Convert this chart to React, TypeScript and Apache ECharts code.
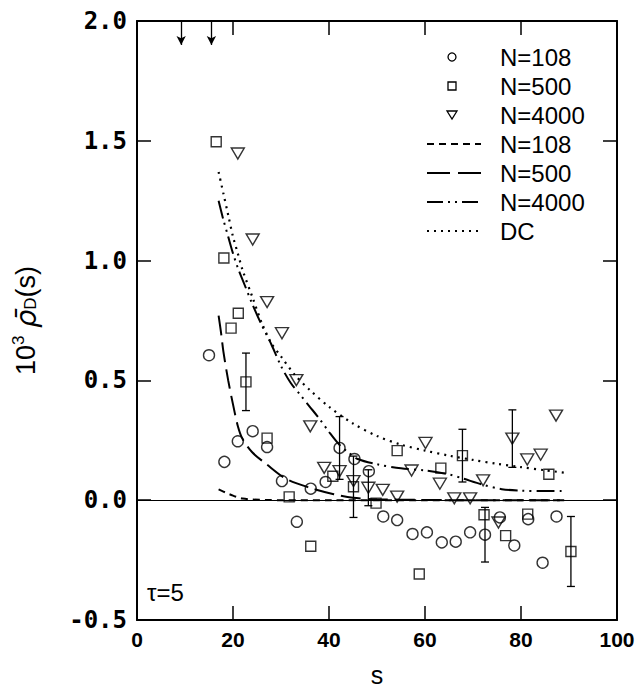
import React, { useEffect, useRef } from "react";
import * as echarts from "echarts";

// ---- data ----
const xTicks = [0, 20, 40, 60, 80, 100];
const yTicks = [-0.5, 0.0, 0.5, 1.0, 1.5, 2.0];
const legendLabels = ["N=108", "N=500", "N=4000", "N=108", "N=500", "N=4000", "DC"];

// simulation points
const circleS = [15.0, 18.2, 21.0, 24.1, 27.1, 30.2, 33.3, 36.2, 39.3, 42.2, 45.3, 48.3, 51.3, 54.2, 57.4, 60.4, 63.5, 66.4, 69.4, 72.5, 75.6, 78.6, 81.5, 84.5, 87.4];
const circleV = [0.605, 0.16, 0.246, 0.288, 0.222, 0.08, -0.09, 0.048, 0.076, 0.218, 0.172, 0.121, -0.068, -0.083, -0.141, -0.134, -0.176, -0.173, -0.134, -0.144, -0.072, -0.189, -0.079, -0.261, -0.068];

const squareS = [16.5, 18.1, 19.6, 21.1, 22.7, 27.1, 31.7, 36.2, 40.8, 45.1, 49.8, 54.2, 58.8, 63.3, 67.8, 72.3, 76.8, 81.4, 85.8, 90.4];
const squareV = [1.496, 1.011, 0.718, 0.78, 0.494, 0.259, 0.014, -0.192, 0.1, 0.056, -0.012, 0.207, -0.308, 0.134, 0.186, -0.061, -0.148, -0.058, 0.108, -0.214];

const triS = [21.0, 24.1, 27.1, 30.2, 33.2, 36.1, 39.0, 42.2, 45.1, 48.2, 51.2, 54.2, 57.2, 60.1, 63.1, 66.1, 69.4, 72.1, 75.3, 78.2, 81.3, 84.1, 87.3];
const triV = [1.447, 1.088, 0.827, 0.697, 0.501, 0.308, 0.135, 0.121, 0.08, 0.052, 0.043, 0.015, 0.124, 0.239, 0.069, 0.008, 0.008, 0.083, -0.093, 0.257, 0.17, 0.19, 0.353];

// error bars (centre, half-width)
const errS = [22.7, 42.2, 45.1, 48.2, 67.8, 72.5, 78.2, 90.4];
const errV = [0.494, 0.218, 0.056, 0.052, 0.186, -0.144, 0.257, -0.214];
const errD = [0.12, 0.131, 0.128, 0.075, 0.11, 0.114, 0.12, 0.146];

// theory curves
const fit108S = [17, 18, 19, 20, 21, 22, 24, 27, 30, 40, 60, 89];
const fit108V = [0.045, 0.036, 0.027, 0.019, 0.012, 0.007, 0.003, 0.001, 0, 0, 0, 0];

const fit500S = [17, 17.5, 18, 19, 20, 21, 22, 24, 27, 31, 36, 41, 45, 50, 60, 70, 89];
const fit500V = [0.77, 0.7, 0.62, 0.5, 0.4, 0.31, 0.255, 0.2, 0.15, 0.09, 0.052, 0.025, 0.01, 0.004, 0.001, 0, 0];

const fit4000S = [17, 18, 19, 20, 21, 22, 24, 26, 28, 30, 32, 34, 36, 38, 40, 42, 44, 46, 50, 55, 60, 65, 68, 72, 76, 80, 85, 89];
const fit4000V = [1.25, 1.17, 1.1, 1.03, 0.97, 0.92, 0.82, 0.73, 0.65, 0.56, 0.49, 0.44, 0.39, 0.34, 0.285, 0.235, 0.2, 0.172, 0.15, 0.133, 0.124, 0.108, 0.09, 0.065, 0.046, 0.04, 0.038, 0.038];

const dcS = [17, 18, 19, 20, 21, 22, 24, 26, 28, 30, 33, 36, 40, 45, 50, 55, 60, 65, 70, 75, 80, 85, 89];
const dcV = [1.37, 1.28, 1.19, 1.1, 1.03, 0.96, 0.85, 0.74, 0.655, 0.6, 0.52, 0.46, 0.39, 0.32, 0.268, 0.232, 0.207, 0.186, 0.168, 0.152, 0.138, 0.125, 0.115];

// arrows at the top
const arrowS = [9.2, 15.5];

const zip = (a: number[], b: number[]) => a.map((x, i) => [x, b[i]]);

const DASH108 = [7, 5];
const DASH500 = [20, 7];
const DASH4000 = [18, 5, 2, 5, 2, 5];
const DOT = [2, 5];

export default function App() {
  const ref = useRef<HTMLDivElement>(null);
  useEffect(() => {
    if (!ref.current) return;
    const chart = echarts.init(ref.current, undefined, { renderer: "svg" });
    const font = "Liberation Sans, Arial, sans-serif";
    const markerStyle = { color: "rgba(0,0,0,0)", borderColor: "#000", borderWidth: 1.4 };
    const axisCommon = {
      axisLine: { show: true, onZero: false, lineStyle: { color: "#000", width: 2 } },
      axisTick: { show: true, inside: true, length: 14, lineStyle: { color: "#000", width: 1.5 } },
      splitLine: { show: false },
    };

    // legend built from graphic elements
    const rowY = (i: number) => 57 + i * 29;
    const symX = 452;
    const lineX1 = 427;
    const lineX2 = 481;
    const textX = 500;
    const mk = { fill: "none", stroke: "#000", lineWidth: 1.3 };
    const ln = (dash: number[], w = 2) => ({ stroke: "#000", lineWidth: w, lineDash: dash, fill: "none" });
    const legendGraphics: any[] = [
      { type: "circle", shape: { cx: symX, cy: rowY(0), r: 4 }, style: mk },
      { type: "rect", shape: { x: symX - 4, y: rowY(1) - 4, width: 8, height: 8 }, style: mk },
      {
        type: "polygon",
        shape: { points: [[symX - 5, rowY(2) - 4], [symX + 5, rowY(2) - 4], [symX, rowY(2) + 4]] },
        style: mk,
      },
      { type: "line", shape: { x1: lineX1, y1: rowY(3), x2: lineX2, y2: rowY(3) }, style: ln(DASH108) },
      { type: "line", shape: { x1: lineX1, y1: rowY(4), x2: lineX2, y2: rowY(4) }, style: ln([23, 8]) },
      { type: "line", shape: { x1: lineX1, y1: rowY(5), x2: lineX2, y2: rowY(5) }, style: ln([16, 5, 2, 5, 2, 5]) },
      { type: "line", shape: { x1: lineX1, y1: rowY(6), x2: lineX2, y2: rowY(6) }, style: ln(DOT, 2.2) },
      ...legendLabels.map((t, i) => ({
        type: "text",
        x: textX,
        y: rowY(i),
        style: { text: t, fontFamily: font, fontSize: 24, fill: "#000", verticalAlign: "middle", align: "left" },
      })),
    ];

    const option: any = {
      animation: false,
      backgroundColor: "#fff",
      grid: { left: 137, right: 23, top: 21, bottom: 67, containLabel: false },
      xAxis: [
        {
          type: "value",
          min: xTicks[0],
          max: xTicks[xTicks.length - 1],
          interval: 20,
          position: "bottom",
          name: "s",
          nameLocation: "middle",
          nameGap: 42,
          nameTextStyle: { fontFamily: font, fontSize: 25, color: "#000" },
          axisLabel: { fontFamily: font, fontSize: 21, fontWeight: "bold", color: "#000", margin: 9 },
          ...axisCommon,
        },
        {
          type: "value",
          min: xTicks[0],
          max: xTicks[xTicks.length - 1],
          interval: 20,
          position: "top",
          axisLabel: { show: false },
          ...axisCommon,
        },
      ],
      yAxis: [
        {
          type: "value",
          min: yTicks[0],
          max: yTicks[yTicks.length - 1],
          interval: 0.5,
          position: "left",
          name: "{a|10}{sup|3}{a| }{rho|ρ\u0304}{sub|D}{a|(s)}",
          nameLocation: "middle",
          nameRotate: 90,
          nameGap: 96,
          nameTextStyle: {
            fontFamily: font,
            color: "#000",
            rich: {
              a: { fontFamily: font, fontSize: 27, color: "#000" },
              sup: { fontFamily: font, fontSize: 17, color: "#000", padding: [0, 0, 14, 0] },
              rho: { fontFamily: "DejaVu Sans, sans-serif", fontSize: 29, fontStyle: "italic", color: "#000" },
              sub: { fontFamily: font, fontSize: 17, color: "#000", padding: [10, 0, 0, 0] },
            },
          },
          axisLabel: {
            fontFamily: "DejaVu Sans Mono, monospace",
            fontSize: 24,
            fontWeight: "bold",
            color: "#000",
            margin: 10,
            formatter: (v: number) => v.toFixed(1),
          },
          ...axisCommon,
        },
        {
          type: "value",
          min: yTicks[0],
          max: yTicks[yTicks.length - 1],
          interval: 0.5,
          position: "right",
          axisLabel: { show: false },
          ...axisCommon,
        },
      ],
      graphic: [
        {
          type: "text",
          left: 147,
          top: 580,
          style: { text: "τ=5", fontFamily: font, fontSize: 24, fill: "#000" },
        },
        ...legendGraphics,
      ],
      series: [
        {
          name: "N=108 fit",
          type: "line",
          data: zip(fit108S, fit108V),
          showSymbol: false,
          symbol: "none",
          smooth: 0.3,
          lineStyle: { color: "#000", width: 2, type: DASH108 },
          itemStyle: { color: "#000" },
          silent: true,
          z: 2,
          markLine: {
            silent: true,
            symbol: ["none", "none"],
            label: { show: false },
            lineStyle: { color: "#000", width: 1.2, type: "solid" },
            data: [[{ coord: [0, 0] }, { coord: [100, 0] }]],
          },
        },
        {
          name: "N=500 fit",
          type: "line",
          data: zip(fit500S, fit500V),
          showSymbol: false,
          symbol: "none",
          smooth: 0.3,
          lineStyle: { color: "#000", width: 2, type: DASH500 },
          itemStyle: { color: "#000" },
          silent: true,
          z: 2,
        },
        {
          name: "N=4000 fit",
          type: "line",
          data: zip(fit4000S, fit4000V),
          showSymbol: false,
          symbol: "none",
          smooth: 0.3,
          lineStyle: { color: "#000", width: 2, type: DASH4000 },
          itemStyle: { color: "#000" },
          silent: true,
          z: 2,
        },
        {
          name: "DC",
          type: "line",
          data: zip(dcS, dcV),
          showSymbol: false,
          symbol: "none",
          smooth: 0.3,
          lineStyle: { color: "#000", width: 2.2, type: DOT },
          itemStyle: { color: "#000" },
          silent: true,
          z: 2,
          markLine: {
            silent: true,
            symbol: ["none", "arrow"],
            symbolSize: [7, 9],
            label: { show: false },
            lineStyle: { color: "#000", width: 1.3, type: "solid" },
            data: arrowS.map((s) => [{ coord: [s, 2.0] }, { coord: [s, 1.9] }]),
          },
        },
        {
          name: "errorbars",
          type: "custom",
          data: errS.map((s, i) => [s, errV[i], errD[i]]),
          silent: true,
          z: 3,
          renderItem: (params: any, api: any) => {
            const s = api.value(0);
            const v = api.value(1);
            const e = api.value(2);
            const top = api.coord([s, v + e]);
            const bot = api.coord([s, v - e]);
            const w = 4;
            const st = { stroke: "#000", lineWidth: 1.3 };
            return {
              type: "group",
              children: [
                { type: "line", shape: { x1: top[0], y1: top[1], x2: bot[0], y2: bot[1] }, style: st },
                { type: "line", shape: { x1: top[0] - w, y1: top[1], x2: top[0] + w, y2: top[1] }, style: st },
                { type: "line", shape: { x1: bot[0] - w, y1: bot[1], x2: bot[0] + w, y2: bot[1] }, style: st },
              ],
            };
          },
        },
        {
          name: "N=108 mc",
          type: "scatter",
          data: zip(circleS, circleV),
          symbol: "circle",
          symbolSize: 11,
          itemStyle: markerStyle,
          z: 4,
        },
        {
          name: "N=500 mc",
          type: "scatter",
          data: zip(squareS, squareV),
          symbol: "rect",
          symbolSize: 10,
          itemStyle: markerStyle,
          z: 4,
        },
        {
          name: "N=4000 mc",
          type: "scatter",
          data: zip(triS, triV),
          symbol: "triangle",
          symbolRotate: 180,
          symbolSize: [13, 11],
          itemStyle: markerStyle,
          z: 4,
        },
      ],
    };
    chart.setOption(option);
    return () => chart.dispose();
  }, []);
  return <div ref={ref} style={{ width: 640, height: 692, position: "absolute", left: 0, top: 0 }} />;
}
